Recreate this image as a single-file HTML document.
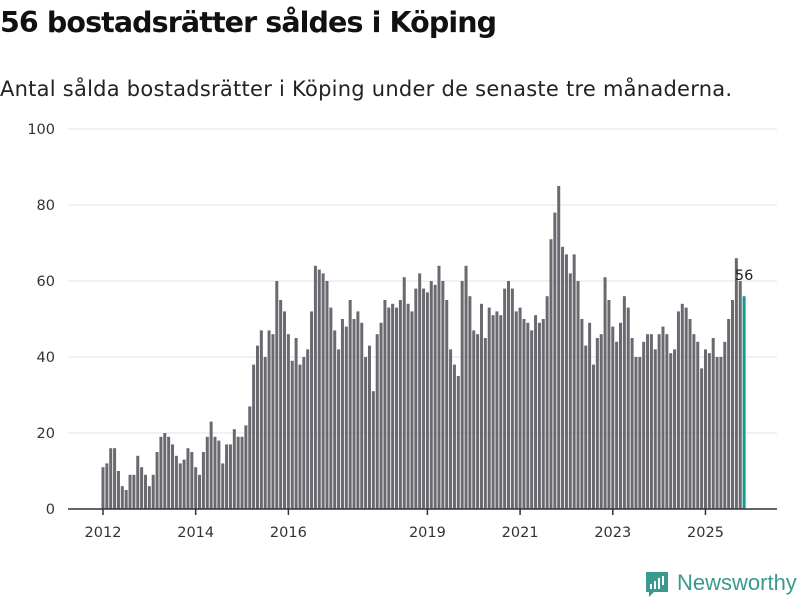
<!DOCTYPE html>
<html><head><meta charset="utf-8">
<style>
body{margin:0;background:#fff;font-family:"DejaVu Sans","Liberation Sans",sans-serif;}
#wrap{position:relative;width:800px;height:600px;overflow:hidden;}
h1{position:absolute;left:0;top:6px;margin:0;font-size:28.5px;font-weight:bold;color:#111;letter-spacing:-0.9px;font-family:"DejaVu Sans","Liberation Sans",sans-serif;}
p.sub{position:absolute;left:0;top:77px;margin:0;font-size:21px;color:#222;font-family:"DejaVu Sans","Liberation Sans",sans-serif;letter-spacing:0.25px;}
</style></head><body>
<div id="wrap">
<h1>56 bostadsrätter såldes i Köping</h1>
<p class="sub">Antal sålda bostadsrätter i Köping under de senaste tre månaderna.</p>
<svg id="chart" width="800" height="600" style="position:absolute;left:0;top:0"></svg>
</div>
<script>
const startYear = 2012;
const values = [
11,12,16,16,10,6,5,9,9,14,11,9,
6,9,15,19,20,19,17,14,12,13,16,15,
11,9,15,19,23,19,18,12,17,17,21,19,
19,22,27,38,43,47,40,47,46,60,55,52,
46,39,45,38,40,42,52,64,63,62,60,53,
47,42,50,48,55,50,52,49,40,43,31,46,
49,55,53,54,53,55,61,54,52,58,62,58,
57,60,59,64,60,55,42,38,35,60,64,56,
47,46,54,45,53,51,52,51,58,60,58,52,
53,50,49,47,51,49,50,56,71,78,85,69,
67,62,67,60,50,43,49,38,45,46,61,55,
48,44,49,56,53,45,40,40,44,46,46,42,
46,48,46,41,42,52,54,53,50,46,44,37,
42,41,45,40,40,44,50,55,66,60,56];
const yTicks = [0,20,40,60,80,100];
const xTickYears = [2012,2014,2016,2019,2021,2023,2025];

const NS='http://www.w3.org/2000/svg';
const svg=document.getElementById('chart');
const y0=509, yTop=129, yMax=100;
const y=v=>y0-(v/yMax)*(y0-yTop);
const x0=103, step=3.862;
const x=i=>x0+i*step;
const FONT='DejaVu Sans, Liberation Sans, sans-serif';
function mk(t,a){const e=document.createElementNS(NS,t);for(const k in a)e.setAttribute(k,a[k]);svg.appendChild(e);return e;}

yTicks.forEach(t=>{
  const g=mk('line',{x1:68,x2:777,y1:y(t),y2:y(t),stroke:'#e3e3e3','stroke-width':1});
  
  
  const l=mk('text',{x:55,y:y(t)+5,'text-anchor':'end','font-size':14.5,fill:'#333','font-family':FONT});
  l.textContent=t;
  
  
});

values.forEach((v,i)=>{
  const last=i===values.length-1;
  const r=mk('rect',{x:x(i)-1.5,y:y(v),width:3,height:y0-y(v),fill:last?'#1a9a8e':'#6a696f'});
  
  
});
const li=values.length-1;
const lbl=mk('text',{x:x(li),y:y(values[li])-16,'text-anchor':'middle','font-size':14.5,fill:'#222','font-family':FONT});
lbl.textContent=values[li];



const ax=mk('line',{x1:68,x2:777,y1:y0,y2:y0,stroke:'#333','stroke-width':1.5});


xTickYears.forEach(yr=>{
  const xi=x((yr-startYear)*12);
  const t=mk('line',{x1:xi,x2:xi,y1:y0,y2:y0+6,stroke:'#333','stroke-width':1.5});
  
  
  const l=mk('text',{x:xi,y:537,'text-anchor':'middle','font-size':14.5,fill:'#333','font-family':FONT});
  l.textContent=yr;
  
  
});

const lg=mk('g',{});


lg.appendChild(mk('path',{d:'M646 572 h22 v20 h-14 l-5 5 v-5 h-3 z',fill:'#3b9a8d'}));
[[650,584,2,5],[654,581,2,8],[658,578,2,11],[662,576,2,9]].forEach(b=>{lg.appendChild(mk('rect',{x:b[0],y:b[1],width:b[2],height:b[3],fill:'#fff'}));});
const lt=mk('text',{x:677,y:590,'font-size':22,fill:'#3b9a8d','font-family':'Liberation Sans, sans-serif'});
lt.textContent='Newsworthy';
lg.appendChild(lt);
</script>
</body></html>
